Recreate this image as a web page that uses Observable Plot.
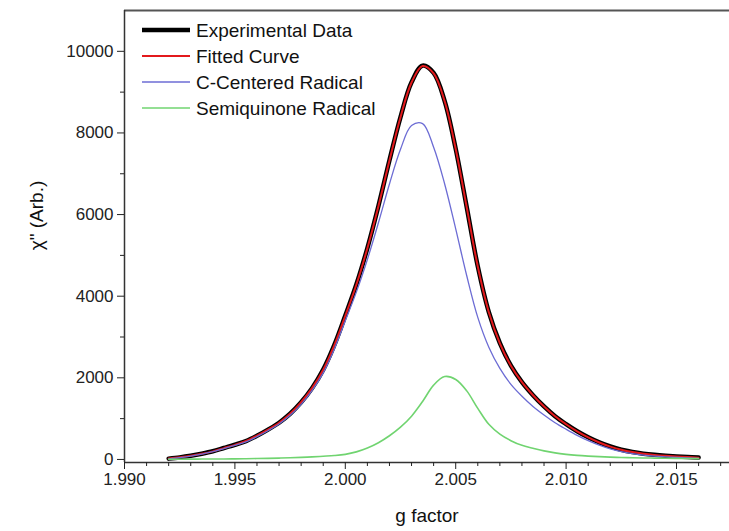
<!DOCTYPE html>
<html>
<head>
<meta charset="utf-8">
<script src="https://cdn.jsdelivr.net/npm/d3@7"></script>
<script src="https://cdn.jsdelivr.net/npm/@observablehq/plot@0.6"></script>
<style>
  html, body { margin: 0; padding: 0; background: #fff; }
  #chart { width: 729px; height: 531px; }
</style>
</head>
<body>
<div id="chart"></div>
<script>
// ---- data ----
const gFactor = [
  1.9920, 1.9925, 1.9930, 1.9935, 1.9940, 1.9945, 1.9950, 1.9955, 1.9960, 1.9965,
  1.9970, 1.9975, 1.9980, 1.9985, 1.9990, 1.9995, 2.0000, 2.0005, 2.0010, 2.0015,
  2.0020, 2.0025, 2.0030, 2.0035, 2.0040, 2.0045, 2.0050, 2.0055, 2.0060, 2.0065,
  2.0070, 2.0075, 2.0080, 2.0085, 2.0090, 2.0095, 2.0100, 2.0105, 2.0110, 2.0115,
  2.0120, 2.0125, 2.0130, 2.0135, 2.0140, 2.0145, 2.0150, 2.0155, 2.0160
];
const experimental = [
  20, 50, 90, 140, 200, 280, 360, 450, 580, 730,
  900, 1120, 1400, 1750, 2200, 2800, 3525, 4285, 5180, 6210,
  7330, 8390, 9240, 9650, 9470, 8780, 7610, 6180, 4730, 3610,
  2850, 2300, 1895, 1575, 1300, 1060, 865, 690, 542, 418,
  317, 238, 182, 142, 113, 91, 74, 59, 46
];
const fitted = [
  22, 52, 90, 138, 198, 278, 358, 452, 582, 728,
  898, 1118, 1402, 1752, 2198, 2796, 3520, 4280, 5176, 6206,
  7326, 8385, 9235, 9640, 9462, 8775, 7606, 6176, 4726, 3606,
  2846, 2296, 1892, 1572, 1297, 1058, 863, 688, 540, 416,
  315, 236, 180, 140, 111, 89, 72, 57, 44
];
const cCentered = [
  15, 44, 82, 131, 190, 268, 345, 432, 558, 703,
  867, 1080, 1350, 1690, 2120, 2700, 3400, 4100, 4900, 5800,
  6750, 7600, 8180, 8230, 7650, 6750, 5650, 4500, 3480, 2750,
  2230, 1840, 1550, 1300, 1090, 900, 740, 590, 460, 350,
  260, 190, 140, 105, 80, 62, 48, 36, 26
];
const semiquinone = [
  5, 6, 8, 9, 10, 12, 15, 18, 22, 27,
  33, 40, 50, 62, 78, 95, 125, 185, 280, 410,
  580, 790, 1060, 1420, 1820, 2030, 1960, 1680, 1250, 860,
  620, 460, 345, 275, 210, 160, 125, 100, 82, 68,
  57, 48, 42, 37, 33, 29, 26, 23, 20
];
const seriesNames = ["Experimental Data", "Fitted Curve", "C-Centered Radical", "Semiquinone Radical"];
const xMajorTicks = [1.990, 1.995, 2.000, 2.005, 2.010, 2.015];
const xMinorTicks = [1.991, 1.992, 1.993, 1.994, 1.996, 1.997, 1.998, 1.999, 2.001, 2.002, 2.003, 2.004,
  2.006, 2.007, 2.008, 2.009, 2.011, 2.012, 2.013, 2.014, 2.016, 2.017];
const yMajorTicks = [0, 2000, 4000, 6000, 8000, 10000];
const yMinorTicks = [1000, 3000, 5000, 7000, 9000];
const xDomain = [1.990, 2.0174];
const yDomain = [-75, 11000];

// ---- build table ----
const seriesValues = [experimental, fitted, cCentered, semiquinone];
const styles = [
  {stroke: "#000000", strokeWidth: 4.5},
  {stroke: "#e3191c", strokeWidth: 2},
  {stroke: "#6c6cd4", strokeWidth: 1.3},
  {stroke: "#70d470", strokeWidth: 1.6}
];
const rows = seriesNames.map((name, s) =>
  gFactor.map((g, i) => ({series: name, g, v: seriesValues[s][i]})));

const font = "'Liberation Sans', Arial, sans-serif";

function legend(index, scales, values, dims) {
  const g = d3.create("svg:g")
    .attr("font-family", font).attr("font-size", 19).attr("fill", "#111")
    .attr("text-anchor", "start");
  seriesNames.forEach((name, i) => {
    const y = dims.marginTop + 20 + i * 26;
    const x0 = dims.marginLeft + 18;
    g.append("line").attr("x1", x0).attr("x2", x0 + 48).attr("y1", y).attr("y2", y)
      .attr("stroke", styles[i].stroke).attr("stroke-width", styles[i].strokeWidth);
    g.append("text").attr("x", x0 + 54).attr("y", y).attr("dy", "0.36em")
      .attr("text-anchor", "start").text(name);
  });
  return g.node();
}

const chart = Plot.plot({
  width: 729,
  height: 531,
  marginLeft: 124,
  marginRight: 0,
  marginTop: 10,
  marginBottom: 69,
  style: {fontFamily: font, fontSize: "17px", color: "#222", background: "#fff"},
  x: {domain: xDomain},
  y: {domain: yDomain},
  marks: [
    Plot.ruleY([yDomain[1]], {stroke: "#555", strokeWidth: 2}),
    Plot.ruleY([yDomain[0]], {stroke: "#333", strokeWidth: 1.5}),
    Plot.ruleX([xDomain[0]], {stroke: "#333", strokeWidth: 1.5}),
    Plot.axisX({ticks: xMajorTicks, tickFormat: d3.format(".3f"), tickSize: 7, tickPadding: 3, label: null, fontSize: 17}),
    Plot.axisX({ticks: xMinorTicks, tickSize: 4, text: null, label: null}),
    Plot.axisY({ticks: yMajorTicks, tickFormat: d => String(d), tickSize: 7, tickPadding: 4, label: null, fontSize: 17}),
    Plot.axisY({ticks: yMinorTicks, tickSize: 4, text: null, label: null}),
    ...rows.map((r, s) => Plot.line(r, {x: "g", y: "v", curve: "catmull-rom", ...styles[s]})),
    Plot.text(["g factor"], {frameAnchor: "bottom", dy: 59, fontSize: 19, fill: "#111"}),
    Plot.text(['\u03C7" (Arb.)'], {frameAnchor: "left", textAnchor: "middle", lineAnchor: "middle", dx: -88, dy: -21, rotate: -90, fontSize: 19, fill: "#111"}),
    legend
  ]
});
document.getElementById("chart").appendChild(chart);
</script>
</body>
</html>
